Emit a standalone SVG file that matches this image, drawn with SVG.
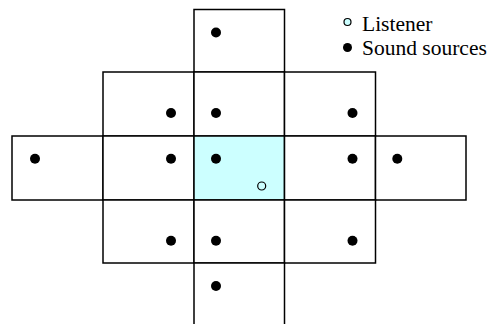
<svg xmlns="http://www.w3.org/2000/svg" width="496" height="324" viewBox="0 0 496 324">
<style>
.cell{fill:#ffffff;stroke:#000;stroke-width:1.5}
.center{fill:#ccffff}
.src{fill:#000}
.lis{fill:#ccffff;stroke:#000;stroke-width:1.2}
.lbl{font-family:"Liberation Serif","Times New Roman",serif;font-size:21.5px;fill:#000}
</style>
<rect width="496" height="324" fill="#fff"/>
<g id="cells">
<g id="cell-r1-c2"><rect class="cell" x="194" y="9.5" width="90.5" height="62.5"/></g>
<g id="cell-r2-c1"><rect class="cell" x="103" y="72" width="91" height="64"/></g>
<g id="cell-r2-c2"><rect class="cell" x="194" y="72" width="90.5" height="64"/></g>
<g id="cell-r2-c3"><rect class="cell" x="284.5" y="72" width="91" height="64"/></g>
<g id="cell-r3-c0"><rect class="cell" x="12" y="136" width="91" height="64"/></g>
<g id="cell-r3-c1"><rect class="cell" x="103" y="136" width="91" height="64"/></g>
<g id="cell-r3-c2"><rect class="cell center" x="194" y="136" width="90.5" height="64"/></g>
<g id="cell-r3-c3"><rect class="cell" x="284.5" y="136" width="91" height="64"/></g>
<g id="cell-r3-c4"><rect class="cell" x="375.5" y="136" width="90.5" height="64"/></g>
<g id="cell-r4-c1"><rect class="cell" x="103" y="200" width="91" height="63"/></g>
<g id="cell-r4-c2"><rect class="cell" x="194" y="200" width="90.5" height="63"/></g>
<g id="cell-r4-c3"><rect class="cell" x="284.5" y="200" width="91" height="63"/></g>
<g id="cell-r5-c2"><rect class="cell" x="194" y="263" width="90.5" height="64"/></g>
</g>
<g id="sources">
<circle class="src" cx="216" cy="32.5" r="5"/>
<circle class="src" cx="171" cy="113" r="5"/>
<circle class="src" cx="216" cy="113" r="5"/>
<circle class="src" cx="352.5" cy="113" r="5"/>
<circle class="src" cx="35" cy="158.7" r="5"/>
<circle class="src" cx="171" cy="158.7" r="5"/>
<circle class="src" cx="216" cy="158.7" r="5"/>
<circle class="src" cx="352.5" cy="158.7" r="5"/>
<circle class="src" cx="397.3" cy="158.7" r="5"/>
<circle class="src" cx="171" cy="240.7" r="5"/>
<circle class="src" cx="216" cy="240.7" r="5"/>
<circle class="src" cx="352.5" cy="240.7" r="5"/>
<circle class="src" cx="216" cy="286" r="5"/>
</g>
<g id="listener"><circle class="lis" cx="261.7" cy="186" r="4"/></g>
<g id="legend">
<circle class="lis" cx="347.5" cy="22" r="3.5"/>
<text class="lbl" x="362" y="31">Listener</text>
<circle class="src" cx="347.5" cy="47.5" r="4.5"/>
<text class="lbl" x="362" y="55">Sound sources</text>
</g>
</svg>
